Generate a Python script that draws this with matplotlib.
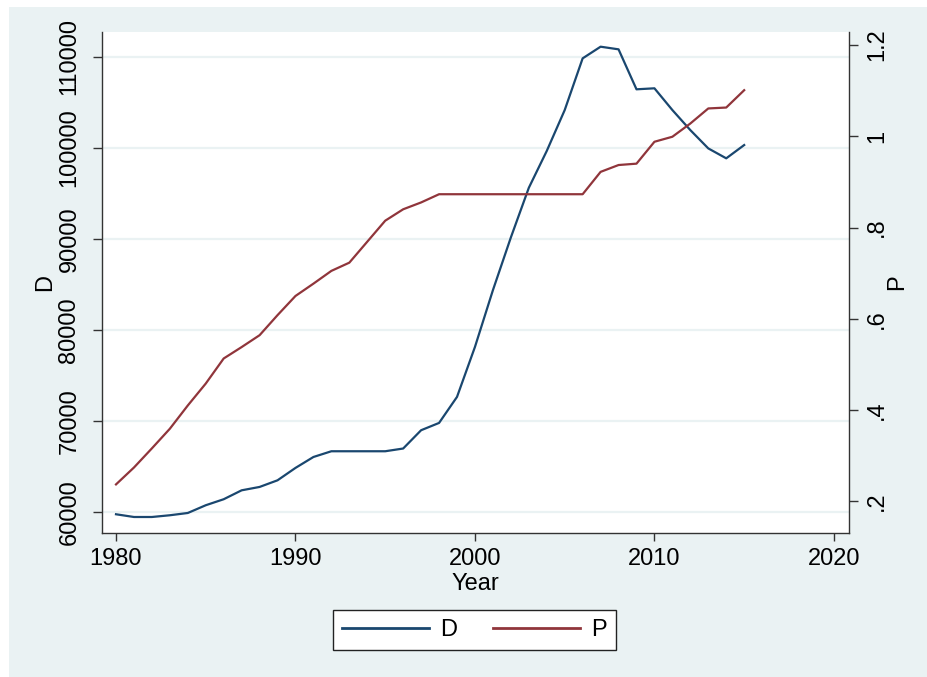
import matplotlib
matplotlib.use("Agg")
import matplotlib.pyplot as plt
from matplotlib.patches import Rectangle

plt.rcParams['font.family'] = ['Liberation Sans', 'DejaVu Sans']

# data
years = [1980, 1981, 1982, 1983, 1984, 1985, 1986, 1987, 1988, 1989,
         1990, 1991, 1992, 1993, 1994, 1995, 1996, 1997, 1998, 1999,
         2000, 2001, 2002, 2003, 2004, 2005, 2006, 2007, 2008, 2009,
         2010, 2011, 2012, 2013, 2014, 2015]
D = [59750, 59450, 59450, 59640, 59890, 60740, 61400, 62380, 62750, 63480,
     64840, 66040, 66670, 66670, 66670, 66670, 66970, 68980, 69780, 72640,
     78130, 84360, 90150, 95600, 99650, 104140, 109820, 111100, 110810, 106420,
     106530, 104140, 101940, 99930, 98840, 100300]
P = [0.237, 0.274, 0.316, 0.359, 0.410, 0.458, 0.513, 0.538, 0.564, 0.608,
     0.650, 0.677, 0.705, 0.723, 0.769, 0.815, 0.840, 0.855, 0.873, 0.873,
     0.873, 0.873, 0.873, 0.873, 0.873, 0.873, 0.873, 0.922, 0.937, 0.940,
     0.988, 0.999, 1.028, 1.061, 1.063, 1.101]

x_ticks = [1980, 1990, 2000, 2010, 2020]
d_ticks = [60000, 70000, 80000, 90000, 100000, 110000]
p_ticks = [0.2, 0.4, 0.6, 0.8, 1.0, 1.2]
p_tick_labels = ['.2', '.4', '.6', '.8', '1', '1.2']

BG = '#eaf2f3'
AX_COL = '#333333'
FS = 17

W, H = 928, 677
fig = plt.figure(figsize=(W / 100, H / 100), dpi=100, facecolor='white')
fig.patches.append(Rectangle((9 / W, 0), (W - 9) / W, (H - 7) / H,
                             transform=fig.transFigure, facecolor=BG,
                             edgecolor='none', zorder=-10))

ax = fig.add_axes([102 / W, 1 - 533 / H, 747 / W, 500.7 / H])
ax.set_facecolor('white')
ax2 = ax.twinx()

lD, = ax.plot(years, D, color='#1a476f', lw=1.6, label='D', zorder=3)
lP, = ax2.plot(years, P, color='#90353b', lw=1.6, label='P', zorder=3)

ax.set_xlim(1979.22, 2020.84)
ax.set_ylim(57692, 112681)
ax2.set_ylim(0.1305, 1.2279)

ax.set_xticks(x_ticks)
ax.set_yticks(d_ticks)
ax.set_yticklabels([str(v) for v in d_ticks], rotation=90, va='center')
ax2.set_yticks(p_ticks)
ax2.set_yticklabels(p_tick_labels, rotation=90, va='center')

ax.grid(axis='y', color=BG, lw=1.6)
ax.set_axisbelow(True)

for a in (ax, ax2):
    for s in a.spines.values():
        s.set_color(AX_COL)
        s.set_linewidth(1.0)
    a.spines['top'].set_visible(False)
ax.spines['right'].set_visible(False)
ax2.spines['left'].set_visible(False)
ax2.spines['bottom'].set_visible(False)

ax.tick_params(axis='x', length=6, width=1, color=AX_COL, labelsize=FS, pad=5)
ax.tick_params(axis='y', length=6.5, width=1, color=AX_COL, labelsize=FS, pad=9)
ax2.tick_params(axis='y', length=6.5, width=1, color=AX_COL, labelsize=FS, pad=6)

ax.set_xlabel('Year', fontsize=FS)
ax.xaxis.set_label_coords(0.5, -(584 - 533) / 500.7)
ax.xaxis.label.set_va('center')

ax.set_ylabel('D', fontsize=FS)
ax.yaxis.set_label_coords((45 - 102) / 747, 0.5)
ax.yaxis.label.set(va='center', ha='center', rotation_mode='default')

ax2.set_ylabel('P', fontsize=FS)
ax2.yaxis.set_label_coords((897 - 102) / 747, 0.5)
ax2.yaxis.label.set(va='center', ha='center', rotation=90, rotation_mode='default')

leg = fig.legend(handles=[lD, lP], loc='center', ncol=2,
                 bbox_to_anchor=(474.5 / W, 1 - 630 / H), fontsize=FS,
                 handlelength=3.7, handletextpad=0.47, columnspacing=1.5,
                 borderpad=0.4, fancybox=False, framealpha=1)
leg.get_frame().set_edgecolor('#222222')
leg.get_frame().set_linewidth(1.0)
for line in leg.get_lines():
    line.set_linewidth(2.0)

fig.savefig('out.png', dpi=100, facecolor=fig.get_facecolor())
